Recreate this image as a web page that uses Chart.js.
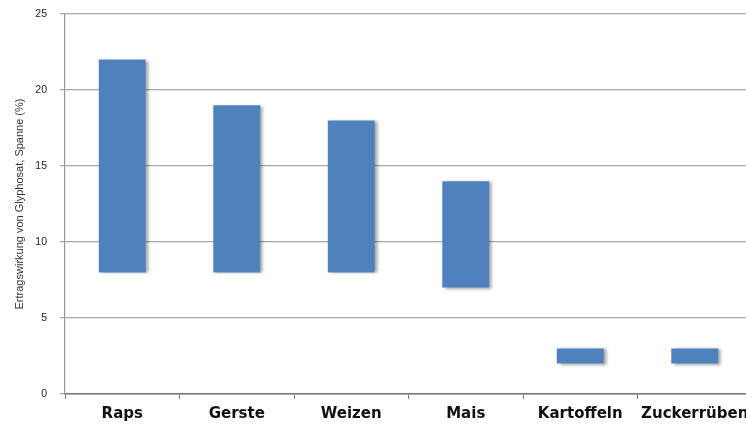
<!DOCTYPE html>
<html>
<head>
<meta charset="utf-8">
<script src="https://cdn.jsdelivr.net/npm/chart.js@4"></script>
<style>
  html, body { margin: 0; padding: 0; background: #fff; overflow: hidden; }
  #wrap { width: 756px; height: 424px; }
</style>
</head>
<body>
<div id="wrap"><canvas id="myChart"></canvas></div>
<script>
// Spanne der Ertragswirkung je Kultur (%)
const kulturen = ['Raps', 'Gerste', 'Weizen', 'Mais', 'Kartoffeln', 'Zuckerrüben'];
const spanneVon = [8, 8, 8, 7, 2, 2];
const spanneBis = [22, 19, 18, 14, 3, 3];
const yTicks = [0, 5, 10, 15, 20, 25];

const shadow = {
  id: 'barShadow',
  beforeDatasetsDraw(chart) {
    const c = chart.ctx;
    c.save();
    c.shadowColor = 'rgba(0,0,0,0.35)';
    c.shadowOffsetX = 3;
    c.shadowOffsetY = 1;
    c.shadowBlur = 3;
  },
  afterDatasetsDraw(chart) {
    chart.ctx.restore();
  }
};

var ctx = document.getElementById('myChart');

const chart = new Chart(ctx, {
  type: 'bar',
  data: {
    labels: kulturen,
    datasets: [{
      label: 'Spanne',
      data: kulturen.map((k, i) => [spanneVon[i], spanneBis[i]]),
      backgroundColor: '#4f81bd',
      borderWidth: 0,
      borderSkipped: false,
      barPercentage: 0.41,
      categoryPercentage: 1
    }]
  },
  options: {
    responsive: true,
    maintainAspectRatio: false,
    animation: false,
    layout: { padding: { top: 14, right: 4, left: 0, bottom: 0 } },
    plugins: {
      legend: { display: false },
      tooltip: { enabled: false }
    },
    scales: {
      x: {
        offset: true,
        grid: {
          offset: true,
          drawOnChartArea: false,
          drawTicks: true,
          tickLength: 5,
          color: '#777'
        },
        border: { color: '#777', width: 1.5 },
        ticks: {
          color: '#111',
          padding: 6,
          maxRotation: 0,
          autoSkip: false,
          font: { family: 'DejaVu Sans', size: 15, weight: 'bold' }
        },
        afterFit(scale) { scale.height = 30; }
      },
      y: {
        min: 0,
        max: 25,
        afterBuildTicks(scale) {
          scale.ticks = yTicks.map(v => ({ value: v }));
        },
        grid: {
          color: '#a6a6a6',
          lineWidth: 1.2,
          drawTicks: true,
          tickLength: 5
        },
        border: { color: '#999', width: 1.2 },
        ticks: {
          color: '#222',
          padding: 13,
          font: { family: 'Liberation Sans', size: 10.5 }
        },
        title: {
          display: true,
          text: 'Ertragswirkung von Glyphosat, Spanne (%)',
          color: '#333',
          padding: { top: 13, bottom: 0 },
          font: { family: 'Liberation Sans', size: 11 }
        },
        afterFit(scale) {
          scale.width = 65;
          scale.paddingTop = 0;
          scale.paddingBottom = 0;
        }
      }
    }
  },
  plugins: [shadow]
});
</script>
</body>
</html>
